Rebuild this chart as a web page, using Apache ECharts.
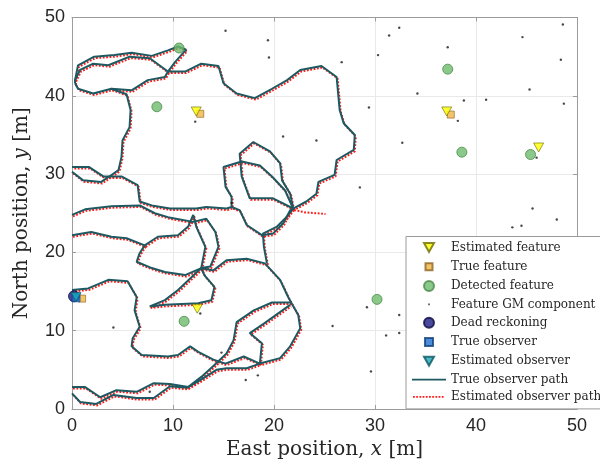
<!DOCTYPE html>
<html>
<head>
<meta charset="utf-8">
<script src="https://cdn.jsdelivr.net/npm/echarts@6/dist/echarts.min.js"></script>
<style>
html,body{margin:0;padding:0;background:#ffffff;}
#chart{width:600px;height:466px;}
</style>
</head>
<body>
<div id="chart"></div>
<script>
// ---------------- data ----------------
const xTicks = [0, 10, 20, 30, 40, 50];
const xTickLabels = ['0', '10', '20', '30', '40', '50'];
const yTicks = [0, 10, 20, 30, 40, 50];
const yTickLabels = ['0', '10', '20', '30', '40', '50'];

const estimatedFeatures = [[12.3, 38.0], [37.1, 38.0], [46.2, 33.4], [12.4, 12.8]];
const trueFeatures = [[12.7, 37.7], [37.5, 37.6], [1.0, 14.1]];
const detectedFeatures = [[10.6, 46.1], [8.4, 38.6], [37.2, 43.4], [38.6, 32.8], [45.4, 32.5], [30.2, 14.0], [11.1, 11.2]];
const gmComponents = [
  [15.2, 48.3], [19.4, 47.1], [19.5, 44.9], [26.7, 44.3], [32.4, 48.7], [31.4, 47.7], [30.3, 45.2],
  [37.2, 46.2], [44.6, 47.5], [48.6, 49.1], [48.4, 44.6], [45.3, 40.8], [48.7, 39.0], [34.2, 40.3],
  [38.8, 39.4], [41.0, 39.5], [29.4, 38.5], [38.2, 36.8], [24.2, 34.3], [20.9, 34.8], [32.7, 34.0],
  [46.0, 32.1], [28.5, 28.3], [45.6, 25.6], [48.0, 24.2], [43.6, 23.2], [44.5, 23.4], [12.2, 36.7],
  [4.1, 10.4], [7.7, 2.2], [14.8, 7.2], [17.2, 3.7], [18.4, 4.3], [25.8, 10.6], [29.2, 13.0],
  [32.4, 12.0], [31.1, 9.4], [32.4, 9.7], [29.6, 4.8], [15.8, 26.3], [12.7, 12.2]
];
const deadReckoning = [[0.2, 14.4]];
const trueObserver = [[0.4, 14.2]];
const estimatedObserver = [[0.4, 14.3]];

// true observer path, traced as strands
const pathTopOuterLoop = [[0.3,41.6],[0.3,42.0],[0.6,43.9],[2.2,45.0],[4.2,45.2],[5.9,45.5],[7.9,45.1],[9.5,45.8],[10.5,46.3],[11.3,45.9],[10.2,44.3],[9.5,43.1],[9.2,42.4],[7.5,42.0],[5.9,40.7],[3.9,40.9],[2.1,40.3],[0.6,40.9],[0.3,41.6]];
const pathTopInnerEastLoop = [[0.3,42.0],[0.8,43.3],[2.1,44.1],[3.6,43.9],[5.7,45.0],[7.7,44.8],[9.5,43.1],[11.2,43.1],[12.8,44.1],[14.5,43.8],[15.0,41.6],[16.3,40.3],[18.1,39.7],[19.8,40.9],[21.3,42.0],[22.6,43.3],[24.7,43.8],[26.2,42.4],[26.5,38.2],[26.9,36.5],[28.0,35.0],[27.9,33.1],[26.2,31.8],[26.0,29.9],[24.4,29.0],[24.2,27.5],[23.2,26.5],[21.9,25.6]];
const pathWestDescent = [[3.9,40.9],[5.4,40.2],[5.8,38.2],[5.7,36.0],[5.0,34.3],[4.9,32.2],[4.6,30.5],[3.7,29.7],[3.1,29.7],[1.7,30.9],[0.0,30.9]];
const pathMidWest = [[0.0,30.3],[1.1,29.2],[2.9,29.0],[3.7,29.7],[4.9,29.7],[6.5,28.6],[6.7,26.5],[7.9,26.0],[9.7,25.6],[12.3,25.6],[13.3,25.8],[15.3,25.6],[15.8,25.8],[15.8,27.1],[15.2,28.4],[15.0,30.9],[16.8,31.6],[18.6,31.1],[19.8,29.7],[21.1,27.9],[21.9,25.6]];
const pathLowWest = [[0.0,24.8],[1.3,25.5],[3.9,25.9],[6.7,26.0],[8.2,25.0],[9.5,24.5],[12.0,23.9],[13.3,24.3],[14.2,22.6],[14.5,20.7],[13.7,18.2],[12.8,18.0]];
const pathCrossNorth = [[12.0,24.8],[12.3,23.3],[13.2,20.7],[12.8,18.0]];
const pathCrossWest = [[12.8,18.0],[11.2,17.1],[9.2,17.5],[7.9,18.0],[6.4,18.8],[6.7,19.9],[7.2,20.9],[5.4,21.8],[3.9,22.0],[1.9,22.6],[0.0,22.2]];
const pathCrossWestUpper = [[7.2,20.9],[8.5,22.0],[10.5,22.2],[11.5,23.3],[12.0,24.8]];
const pathCrossTriangle = [[12.8,18.0],[10.5,15.2],[9.2,13.9],[7.7,13.1],[9.2,13.3],[12.5,13.5],[13.8,13.9],[14.1,15.6],[13.1,17.1],[12.8,18.0]];
const pathSouthLoop = [[12.8,18.0],[14.0,17.7],[15.3,19.0],[17.3,19.2],[19.1,18.6],[20.6,16.5],[21.4,14.3],[21.7,13.6],[22.4,12.0],[22.6,10.3],[21.6,8.0],[20.6,6.5],[18.6,5.8],[17.0,6.7],[15.2,5.8],[14.0,6.3],[12.5,7.3],[11.7,8.0],[10.5,6.9],[9.5,6.7],[6.9,6.9],[5.9,8.0],[6.0,9.0],[6.7,10.5],[6.2,12.6],[6.4,14.3],[5.5,16.3],[3.6,16.5],[1.6,15.4],[0.0,15.2]];
const pathBottomUpper = [[0.0,2.8],[1.3,2.8],[2.8,1.5],[4.4,2.4],[6.4,2.2],[8.1,3.3],[9.7,3.2],[11.5,2.8],[12.7,3.7],[14.3,5.0],[15.3,5.2],[17.3,5.2],[18.6,5.8]];
const pathBottomLower = [[0.0,2.0],[0.8,0.9],[2.4,0.65],[4.1,1.8],[6.4,1.4],[8.1,1.4],[9.7,2.9],[11.4,2.7],[12.8,4.1],[14.0,5.5],[15.3,7.1],[16.0,8.8],[16.3,11.1],[18.0,12.6],[19.8,13.6],[21.7,13.6]];
const pathInnerSouthLoop = [[18.6,5.8],[18.8,8.4],[17.6,9.7],[19.0,10.9],[21.6,13.3]];
const pathCentralRise = [[19.3,18.6],[19.0,20.7],[18.9,22.4],[20.3,23.3],[21.3,24.6],[21.9,25.6]];
const pathCentralDip = [[21.9,25.6],[21.6,25.4],[20.9,23.7],[19.9,22.4],[18.8,22.2],[17.3,23.5],[16.6,25.4],[15.8,25.8]];
const pathCentralLoop = [[21.9,25.6],[21.6,25.8],[19.9,26.9],[17.6,26.9],[16.8,29.7],[16.6,32.6],[17.95,34.1],[19.6,32.9],[20.6,31.4],[20.8,29.2],[21.6,27.5],[21.9,25.6]];
// estimated path: follows the true strands, plus its own diverging tail
const estimatedPathTail = [[21.9,25.6],[23.0,25.3],[24.0,25.2],[25.0,25.1]];

const truePathStrands = [pathTopOuterLoop, pathTopInnerEastLoop, pathWestDescent, pathMidWest, pathLowWest,
  pathCrossNorth, pathCrossWest, pathCrossWestUpper, pathCrossTriangle, pathSouthLoop, pathBottomUpper,
  pathBottomLower, pathInnerSouthLoop, pathCentralRise, pathCentralDip, pathCentralLoop];
const estimatedPathStrands = truePathStrands.concat([estimatedPathTail]);

// ---------------- styling ----------------
const serif = 'DejaVu Serif';
const sans = 'Liberation Sans';
const axisColor = '#9c9c9c';
const gridColor = '#e9e9e9';
const tealColor = '#1d5961';
const redColor = '#ff1a1a';

const box = 'M0 0M34 12';
const icTriDown = 'path://' + box + 'M12 1.5L22 1.5L17 10.5Z';
const icSquare7 = 'path://' + box + 'M13.5 2.5L20.5 2.5L20.5 9.5L13.5 9.5Z';
const icCircle = 'path://' + box + 'M22 6A5 5 0 1 1 12 6A5 5 0 1 1 22 6Z';
const icDot = 'path://' + box + 'M16.2 5.2L17.8 5.2L17.8 6.8L16.2 6.8Z';
const icSquare8 = 'path://' + box + 'M13 2L21 2L21 10L13 10Z';
const icLine = 'path://' + box + 'M0 5.2L34 5.2L34 6.8L0 6.8Z';
let dotted = box;
for (let x = 1; x < 33; x += 3.2) {
  dotted += 'M' + x + ' 5.1L' + (x + 1.8) + ' 5.1L' + (x + 1.8) + ' 6.9L' + x + ' 6.9Z';
}
const icDotted = 'path://' + dotted;

const triSymbol = 'path://M0 0L10 0L5 9Z';

const series = [];
truePathStrands.forEach(function (s) {
  series.push({
    type: 'line', name: 'True observer path', data: s, symbol: 'none', showSymbol: false,
    xAxisIndex: 0, yAxisIndex: 0,
    lineStyle: { color: tealColor, width: 2 }, itemStyle: { color: tealColor },
    z: 3, silent: true, animation: false
  });
});
// the estimated path is drawn on a twin grid nudged a pixel down/right so it sits beside the true path
estimatedPathStrands.forEach(function (s) {
  series.push({
    type: 'line', name: 'Estimated observer path', data: s, symbol: 'none', showSymbol: false,
    xAxisIndex: 2, yAxisIndex: 2,
    lineStyle: { color: redColor, width: 2, type: [1.8, 1.6], cap: 'butt' }, itemStyle: { color: redColor },
    z: 2, silent: true, animation: false
  });
});
series.push(
  { type: 'scatter', name: 'Feature GM component', data: gmComponents, symbol: 'circle', symbolSize: 2.4,
    itemStyle: { color: '#1a1a1a' }, z: 4, animation: false },
  { type: 'scatter', name: 'Detected feature', data: detectedFeatures, symbol: 'circle', symbolSize: 10,
    itemStyle: { color: '#6dbb6d', borderColor: '#4b8a4b', borderWidth: 1 }, z: 5, animation: false },
  { type: 'scatter', name: 'True feature', data: trueFeatures, symbol: 'rect', symbolSize: 7,
    itemStyle: { color: '#f2b544', borderColor: '#8c6420', borderWidth: 0.8 }, z: 5, animation: false },
  { type: 'scatter', name: 'Estimated feature', data: estimatedFeatures, symbol: triSymbol, symbolSize: [10, 9],
    itemStyle: { color: '#ffff00', borderColor: '#6b6b00', borderWidth: 0.8 }, z: 6, animation: false },
  { type: 'scatter', name: 'Dead reckoning', data: deadReckoning, symbol: 'circle', symbolSize: 11,
    itemStyle: { color: '#1b1b84', borderColor: '#0a0a40', borderWidth: 1 }, z: 6, animation: false },
  { type: 'scatter', name: 'True observer', data: trueObserver, symbol: 'rect', symbolSize: 8,
    itemStyle: { color: '#1f6fd2', borderColor: '#10407a', borderWidth: 0.8 }, z: 7, animation: false },
  { type: 'scatter', name: 'Estimated observer', data: estimatedObserver, symbol: triSymbol, symbolSize: [10, 9],
    itemStyle: { color: '#1aa7b8', borderColor: '#0c5560', borderWidth: 0.8 }, z: 8, animation: false }
);

function fmt(ticks, labels) {
  return function (v) { const i = ticks.indexOf(v); return i >= 0 ? labels[i] : ''; };
}

const titleRich = {
  a: { fontFamily: serif, fontSize: 20, color: '#262626' },
  b: { fontFamily: serif, fontSize: 20, fontStyle: 'italic', color: '#262626' }
};

const hiddenAxis = { type: 'value', min: 0, max: 50, interval: 10, show: false, gridIndex: 1 };

const option = {
  backgroundColor: '#ffffff',
  animation: false,
  grid: [
    { left: 72, right: 23, top: 17.5, bottom: 57, containLabel: false, outerBoundsMode: 'none' },
    { left: 73, right: 22, top: 19, bottom: 55.5, containLabel: false, outerBoundsMode: 'none' }
  ],
  xAxis: [
    { type: 'value', min: 0, max: 50, interval: 10, position: 'bottom', gridIndex: 0,
      axisLine: { show: true, onZero: false, lineStyle: { color: axisColor, width: 1 } },
      axisTick: { show: true, inside: true, length: 4, lineStyle: { color: axisColor } },
      axisLabel: { fontFamily: sans, fontSize: 18, color: '#262626', margin: 8, formatter: fmt(xTicks, xTickLabels) },
      splitLine: { show: true, lineStyle: { color: gridColor, width: 1 } },
      name: '{a|East position, }{b|x}{a| [m]}', nameLocation: 'middle', nameGap: 30,
      nameTextStyle: { rich: titleRich } },
    { type: 'value', min: 0, max: 50, interval: 10, position: 'top', gridIndex: 0,
      axisLine: { show: true, onZero: false, lineStyle: { color: axisColor, width: 1 } },
      axisTick: { show: true, inside: true, length: 4, lineStyle: { color: axisColor } },
      axisLabel: { show: false }, splitLine: { show: false } },
    Object.assign({}, hiddenAxis, { position: 'bottom' })
  ],
  yAxis: [
    { type: 'value', min: 0, max: 50, interval: 10, position: 'left', gridIndex: 0,
      axisLine: { show: true, onZero: false, lineStyle: { color: axisColor, width: 1 } },
      axisTick: { show: true, inside: true, length: 4, lineStyle: { color: axisColor } },
      axisLabel: { fontFamily: sans, fontSize: 18, color: '#262626', margin: 7, formatter: fmt(yTicks, yTickLabels) },
      splitLine: { show: true, lineStyle: { color: gridColor, width: 1 } },
      name: '{a|North position, }{b|y}{a| [m]}', nameLocation: 'middle', nameGap: 40, nameRotate: 90,
      nameTextStyle: { rich: titleRich } },
    { type: 'value', min: 0, max: 50, interval: 10, position: 'right', gridIndex: 0,
      axisLine: { show: true, onZero: false, lineStyle: { color: axisColor, width: 1 } },
      axisTick: { show: true, inside: true, length: 4, lineStyle: { color: axisColor } },
      axisLabel: { show: false }, splitLine: { show: false } },
    Object.assign({}, hiddenAxis, { position: 'left' })
  ],
  legend: {
    orient: 'vertical', left: 406, top: 236.5,
    padding: [4, 8, 6, 5],
    itemWidth: 34, itemHeight: 12, itemGap: 5.3,
    backgroundColor: '#ffffff', borderColor: '#9a9a9a', borderWidth: 1, borderRadius: 0,
    selectedMode: false, z: 20,
    textStyle: { fontFamily: serif, fontSize: 12, color: '#262626', lineHeight: 12 },
    data: [
      { name: 'Estimated feature', icon: icTriDown },
      { name: 'True feature', icon: icSquare7 },
      { name: 'Detected feature', icon: icCircle },
      { name: 'Feature GM component', icon: icDot },
      { name: 'Dead reckoning', icon: icCircle },
      { name: 'True observer', icon: icSquare8 },
      { name: 'Estimated observer', icon: icTriDown },
      { name: 'True observer path', icon: icLine, itemStyle: { borderWidth: 0 } },
      { name: 'Estimated observer path', icon: icDotted, itemStyle: { borderWidth: 0 } }
    ]
  },
  series: series
};

const chart = echarts.init(document.getElementById('chart'), null, { renderer: 'canvas' });
chart.setOption(option);
</script>
</body>
</html>
